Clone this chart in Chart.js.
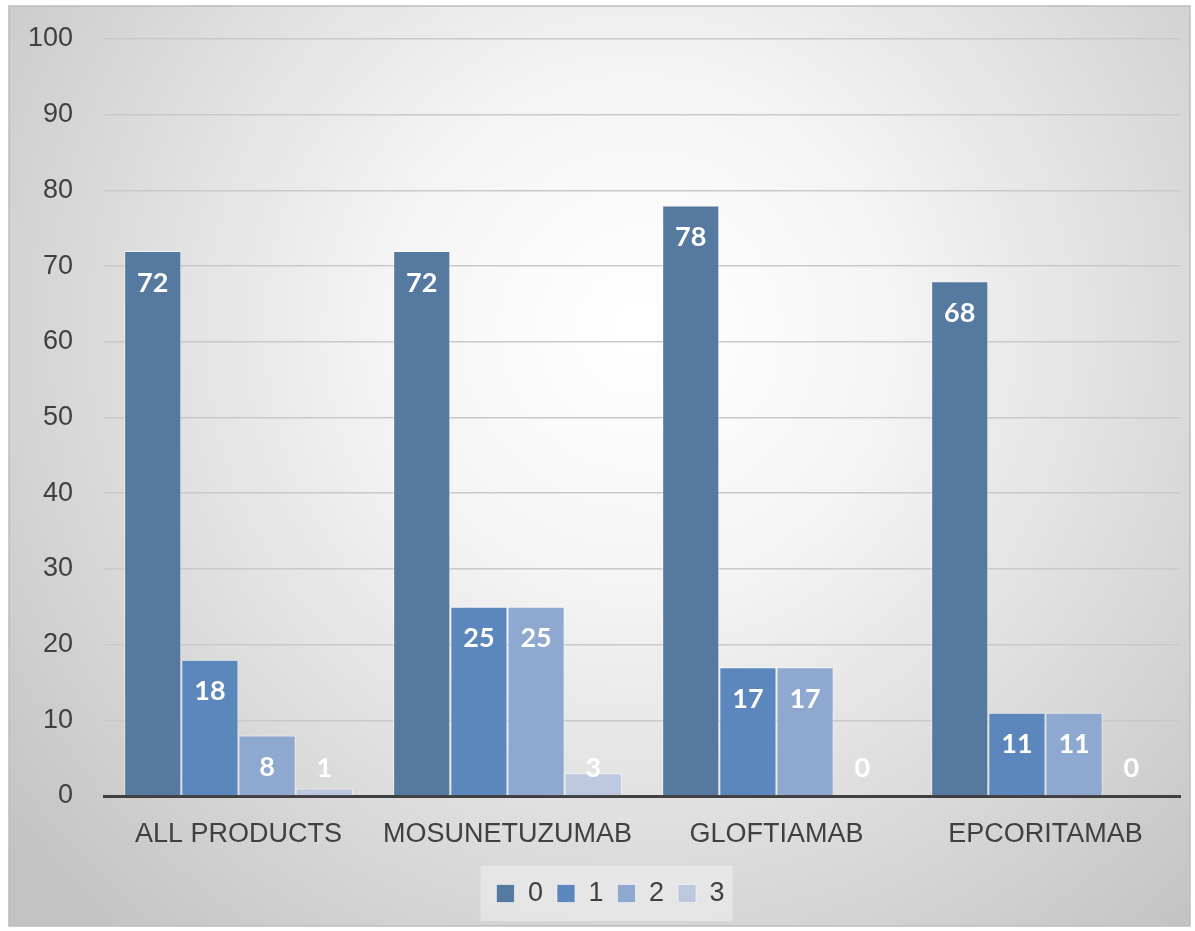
<!DOCTYPE html>
<html>
<head>
<meta charset="utf-8">
<script src="https://cdn.jsdelivr.net/npm/chart.js@4.4.0/dist/chart.umd.min.js"></script>
<style>
  html, body { margin: 0; padding: 0; background: #fff; }
  #wrap { width: 1195px; height: 931px; position: relative; }
</style>
</head>
<body>
<div id="wrap"><canvas id="myChart" width="1195" height="931"></canvas></div>
<script>
// chart data
const categories = ['ALL PRODUCTS', 'MOSUNETUZUMAB', 'GLOFTIAMAB', 'EPCORITAMAB'];
const seriesNames = ['0', '1', '2', '3'];
const values0 = [72, 72, 78, 68];
const values1 = [18, 25, 17, 11];
const values2 = [8, 25, 17, 11];
const values3 = [1, 3, 0, 0];
const yTicks = [0, 10, 20, 30, 40, 50, 60, 70, 80, 90, 100];

const colors = ['#56799f', '#5b87bc', '#8ea8cf', '#bdc8de'];
const axisFont = '"Liberation Sans", Arial, sans-serif';

// background with radial gradient + frame
const bgPlugin = {
    id: 'bg',
    afterLayout(chart) {
        // legend sits a bit right of center, like the original
        chart.legend.left += 16;
        chart.legend.right += 16;
    },
    beforeDraw(chart) {
        const c = chart.ctx;
        c.save();
        c.fillStyle = '#ffffff';
        c.fillRect(0, 0, chart.width, chart.height);
        const g = c.createRadialGradient(640, 330, 20, 640, 330, 820);
        g.addColorStop(0, '#ffffff');
        g.addColorStop(0.3, '#f4f4f4');
        g.addColorStop(1, '#c2c2c2');
        c.fillStyle = g;
        c.fillRect(9, 6, 1181, 920);
        c.strokeStyle = '#bdbdbd';
        c.lineWidth = 1.5;
        c.strokeRect(9, 6, 1181, 920);
        // legend background
        const boxes = chart.legend.legendHitBoxes;
        if (boxes && boxes.length) {
            const first = boxes[0], last = boxes[boxes.length - 1];
            c.fillStyle = 'rgba(255,255,255,0.35)';
            c.fillRect(first.left - 16, first.top - 14, last.left + last.width - first.left + 24, first.height + 28);
        }
        c.restore();
    }
};

// white bold value labels near bar top
const labelPlugin = {
    id: 'valLabels',
    afterDatasetsDraw(chart) {
        const c = chart.ctx;
        const base = chart.scales.y.getPixelForValue(0);
        c.save();
        c.font = 'bold 27px Lato, "Open Sans", sans-serif';
        c.fillStyle = '#ffffff';
        c.textAlign = 'center';
        c.textBaseline = 'middle';
        chart.data.datasets.forEach((ds, i) => {
            chart.getDatasetMeta(i).data.forEach((bar, j) => {
                const y = Math.min(bar.y + 32, base - 28);
                c.fillText(String(ds.data[j]), bar.x, y);
            });
        });
        c.restore();
    }
};

const datasets = [values0, values1, values2, values3].map((vals, i) => ({
    label: seriesNames[i],
    data: vals,
    backgroundColor: colors[i],
    borderColor: 'rgba(255,255,255,0.55)',
    borderWidth: 1,
    categoryPercentage: 0.85,
    barPercentage: 1.0
}));

const ctx = document.getElementById('myChart').getContext('2d');
const chart = new Chart(ctx, {
    type: 'bar',
    data: { labels: categories, datasets: datasets },
    options: {
        responsive: false,
        animation: false,
        layout: { padding: { left: 9, right: 15, top: 39, bottom: 14 } },
        plugins: {
            legend: {
                position: 'bottom',
                labels: {
                    boxWidth: 18,
                    boxHeight: 18,
                    padding: 14,
                    color: '#404040',
                    font: { family: axisFont, size: 27 }
                }
            },
            tooltip: { enabled: false }
        },
        scales: {
            x: {
                afterFit(scale) { scale.height = 70; },
                grid: { display: false, drawTicks: false },
                border: { color: '#404040', width: 3 },
                ticks: {
                    color: '#404040',
                    padding: 22,
                    font: { family: axisFont, size: 27 }
                }
            },
            y: {
                min: 0,
                max: 100,
                afterBuildTicks(scale) { scale.ticks = yTicks.map(v => ({ value: v })); },
                afterFit(scale) {
                    scale.width = 95;
                    scale.paddingTop = 0;
                    scale.paddingBottom = 0;
                },
                grid: { color: '#c9c9c9', lineWidth: 1.5, drawTicks: false },
                border: { display: false },
                ticks: {
                    color: '#404040',
                    padding: 31,
                    font: { family: axisFont, size: 27 }
                }
            }
        }
    },
    plugins: [bgPlugin, labelPlugin]
});
</script>
</body>
</html>
